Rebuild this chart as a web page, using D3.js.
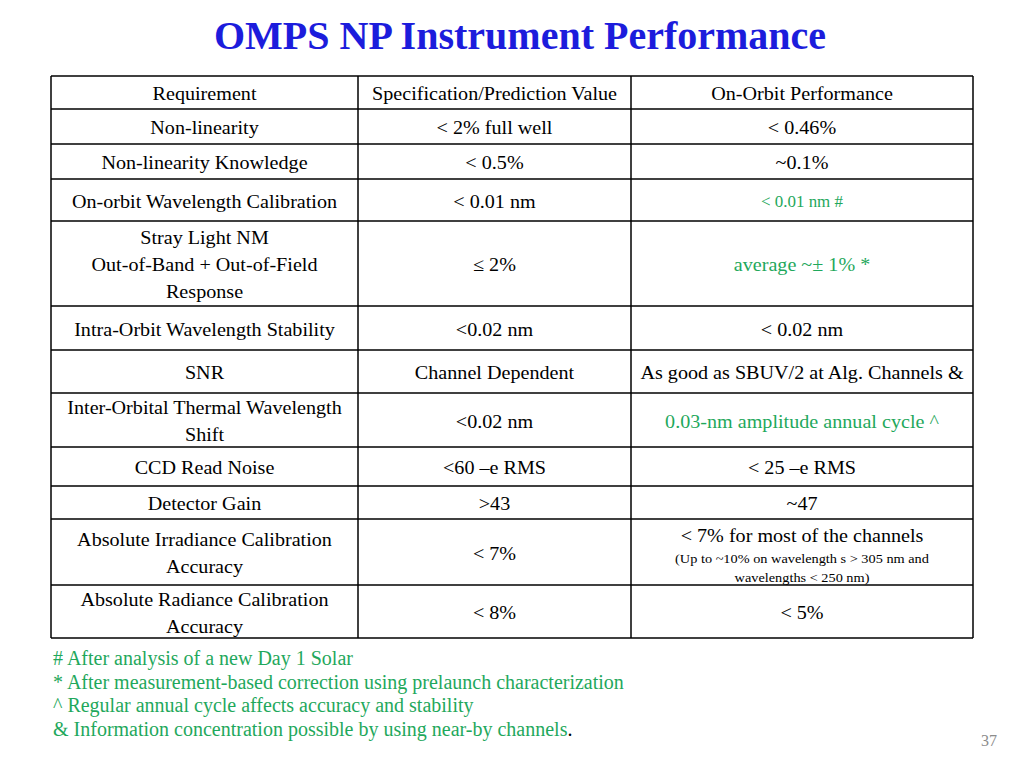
<!DOCTYPE html>
<html>
<head>
<meta charset="utf-8">
<script src="https://cdn.jsdelivr.net/npm/d3@7"></script>
<style>
  body { margin: 0; background: #fff; }
  svg { display: block; font-family: "Liberation Serif", "Times New Roman", serif; }
</style>
</head>
<body>
<div id="slide"></div>
<script>
// table contents (each cell is a list of lines)
var headers = ["Requirement", "Specification/Prediction Value", "On-Orbit Performance"];
var requirements = [
    ["Non-linearity"],
    ["Non-linearity Knowledge"],
    ["On-orbit Wavelength Calibration"],
    ["Stray Light NM", "Out-of-Band + Out-of-Field", "Response"],
    ["Intra-Orbit Wavelength Stability"],
    ["SNR"],
    ["Inter-Orbital Thermal Wavelength", "Shift"],
    ["CCD Read Noise"],
    ["Detector Gain"],
    ["Absolute Irradiance Calibration", "Accuracy"],
    ["Absolute Radiance Calibration", "Accuracy"]
];
var specs = [
    ["< 2% full well"], ["< 0.5%"], ["< 0.01 nm"], ["\u2264 2%"], ["<0.02 nm"],
    ["Channel Dependent"], ["<0.02 nm"], ["<60 \u2013e RMS"], [">43"], ["< 7%"], ["< 8%"]
];
var performance = [
    ["< 0.46%"], ["~0.1%"], ["< 0.01 nm #"], ["average ~\u00b1 1% *"], ["< 0.02 nm"],
    ["As good as SBUV/2 at Alg. Channels &"], ["0.03-nm amplitude annual cycle ^"],
    ["< 25 \u2013e RMS"], ["~47"],
    ["< 7% for most of the channels", "(Up to ~10% on wavelength s > 305 nm and", "wavelengths < 250 nm)"],
    ["< 5%"]
];
var greenRows = [2, 3, 6];
var footnotes = [
    "# After analysis of a new Day 1 Solar",
    "* After measurement-based correction using prelaunch characterization",
    "^ Regular annual cycle affects accuracy and stability",
    "& Information concentration possible by using near-by channels"
];

// layout
var width = 1024, height = 768;
var colEdges = [51, 358, 631, 973];
var rowEdges = [76, 109, 144, 179, 221, 306, 350, 393, 447, 486, 519, 585, 638];
var green = "#1fa85c";
var fs = 19, lineGap = 27, stretch = 1.06;

var svg = d3.select("#slide").append("svg")
    .attr("width", width)
    .attr("height", height);

svg.append("text")
    .attr("x", 520).attr("y", 49)
    .attr("text-anchor", "middle")
    .style("font-size", "40px").style("font-weight", "bold")
    .style("fill", "#1c1cdc")
    .text("OMPS NP Instrument Performance");

var rows = [headers.map(function (h) { return [h]; })];
requirements.forEach(function (r, i) { rows.push([r, specs[i], performance[i]]); });

var grid = svg.append("g");
var cells = svg.append("g");

rows.forEach(function (row, ri) {
    var y0 = rowEdges[ri], y1 = rowEdges[ri + 1];
    var cy = (y0 + y1) / 2;
    row.forEach(function (lines, ci) {
        var cx = (colEdges[ci] + colEdges[ci + 1]) / 2;
        var isGreen = ci === 2 && greenRows.indexOf(ri - 1) >= 0;
        var t = cells.append("text")
            .attr("text-anchor", "middle")
            .attr("transform", "translate(" + cx + ",0) scale(" + stretch + ",1)")
            .style("fill", isGreen ? green : "#000");
        if (ri - 1 === 9 && ci === 2) {
            // mixed-size cell
            var ys = [534, 558, 577], sizes = [19, 13.5, 13.5];
            lines.forEach(function (l, li) {
                t.append("tspan").attr("x", 0).attr("y", ys[li] + sizes[li] * 0.4)
                    .style("font-size", sizes[li] + "px").text(l);
            });
            return;
        }
        var size = (ri - 1 === 2 && ci === 2) ? 16 : fs;
        var first = cy - (lines.length - 1) * lineGap / 2;
        lines.forEach(function (l, li) {
            t.append("tspan").attr("x", 0).attr("y", first + li * lineGap + size * 0.42)
                .style("font-size", size + "px").text(l);
        });
    });
});

grid.selectAll("line.h").data(rowEdges).enter().append("line")
    .attr("x1", colEdges[0]).attr("x2", colEdges[3])
    .attr("y1", function (d) { return d; }).attr("y2", function (d) { return d; })
    .style("stroke", "#000").style("stroke-width", 1.5);
grid.selectAll("line.v").data(colEdges).enter().append("line")
    .attr("x1", function (d) { return d; }).attr("x2", function (d) { return d; })
    .attr("y1", rowEdges[0]).attr("y2", rowEdges[rowEdges.length - 1])
    .style("stroke", "#000").style("stroke-width", 1.5);

var notes = svg.append("g");
footnotes.forEach(function (f, i) {
    var t = notes.append("text")
        .attr("x", 53).attr("y", 665 + i * 23.7)
        .style("font-size", "20px").style("fill", green)
        .text(f);
    if (i === footnotes.length - 1) t.append("tspan").style("fill", "#000").text(".");
});

svg.append("text")
    .attr("x", 997).attr("y", 746)
    .attr("text-anchor", "end")
    .style("font-size", "16px").style("fill", "#8c8c8c")
    .text("37");
</script>
</body>
</html>
